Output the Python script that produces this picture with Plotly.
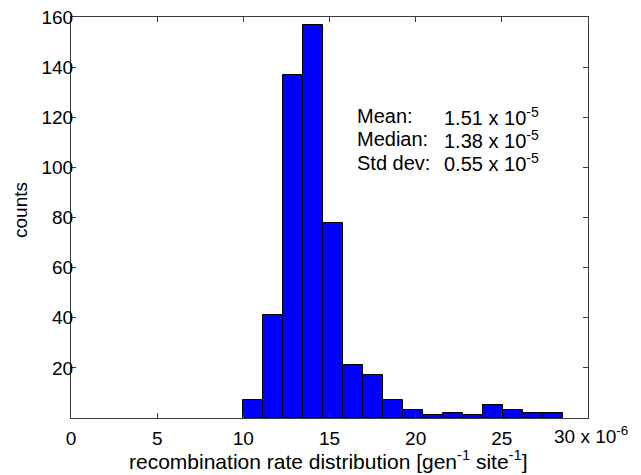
import plotly.graph_objects as go

# Data (x in units of 1e-6 gen^-1 site^-1)
bin_start = 9.96
bin_width = 1.161
counts = [7, 41, 137, 157, 78, 21, 17, 7, 3, 1, 2, 1, 5, 3, 2, 2]
bin_centers = [bin_start + bin_width * (i + 0.5) for i in range(len(counts))]

x_tickvals = [0, 5, 10, 15, 20, 25, 30]
x_ticktext = ["0", "5", "10", "15", "20", "25", ""]
y_tickvals = [20, 40, 60, 80, 100, 120, 140, 160]

stats_labels = ["Mean:", "Median:", "Std dev:"]
stats_values = ["1.51 x 10<sup>-5</sup>", "1.38 x 10<sup>-5</sup>", "0.55 x 10<sup>-5</sup>"]

font_family = "Liberation Sans, Arial, sans-serif"
axis_color = "#3a3a3a"
FS = 19

fig = go.Figure()
fig.add_trace(go.Bar(
    x=bin_centers, y=counts, width=[bin_width] * len(counts),
    marker=dict(color="#0000FF", line=dict(color="#000000", width=1)),
    hoverinfo="x+y",
))

# plot area in page pixels: x 71..588, y 17..418
PX0, PX1, PY0, PY1 = 71, 588, 17, 418

def px_x(px):
    return (px - PX0) / (PX1 - PX0)

def px_y(py):
    return (PY1 - py) / (PY1 - PY0)

for i, (lab, val) in enumerate(zip(stats_labels, stats_values)):
    ypix = 116 + i * 23.3
    fig.add_annotation(x=px_x(355), y=px_y(ypix), xref="paper", yref="paper", text=lab,
                       showarrow=False, xanchor="left", yanchor="middle",
                       font=dict(family=font_family, size=20, color="#000"))
    fig.add_annotation(x=px_x(442), y=px_y(ypix), xref="paper", yref="paper", text=val,
                       showarrow=False, xanchor="left", yanchor="middle",
                       font=dict(family=font_family, size=20, color="#000"))

fig.add_annotation(x=px_x(552), y=px_y(435), xref="paper", yref="paper",
                   text="30 x 10<sup>-6</sup>", showarrow=False,
                   xanchor="left", yanchor="middle",
                   font=dict(family=font_family, size=FS, color="#000"))

fig.add_annotation(x=px_x(328), y=px_y(460), xref="paper", yref="paper",
                   text="recombination rate distribution [gen<sup>-1</sup> site<sup>-1</sup>]",
                   showarrow=False, xanchor="center", yanchor="middle",
                   font=dict(family=font_family, size=21, color="#000"))

fig.add_annotation(x=px_x(20), y=px_y(210), xref="paper", yref="paper",
                   text="counts", textangle=-90,
                   showarrow=False, xanchor="center", yanchor="middle",
                   font=dict(family=font_family, size=FS, color="#000"))

fig.update_layout(
    width=633, height=467,
    margin=dict(l=63, r=53, t=9, b=57),
    plot_bgcolor="white", paper_bgcolor="white",
    showlegend=False, bargap=0,
    font=dict(family=font_family, size=FS, color="#000"),
    xaxis=dict(range=[0, 30], tickvals=x_tickvals, ticktext=x_ticktext,
               ticks="inside", ticklen=5, tickcolor=axis_color,
               showline=True, linecolor=axis_color, linewidth=1, mirror="ticks",
               showgrid=False, zeroline=False, automargin=False,
               ticklabelstandoff=3, ticklabeloverflow="allow",
               tickfont=dict(size=FS)),
    yaxis=dict(range=[0, 160], tickvals=y_tickvals,
               ticks="inside", ticklen=5, tickcolor=axis_color,
               showline=True, linecolor=axis_color, linewidth=1, mirror="ticks",
               showgrid=False, zeroline=False, automargin=False,
               ticklabelstandoff=-7, ticklabeloverflow="allow",
               tickfont=dict(size=FS)),
)

fig.write_html("out.html")
